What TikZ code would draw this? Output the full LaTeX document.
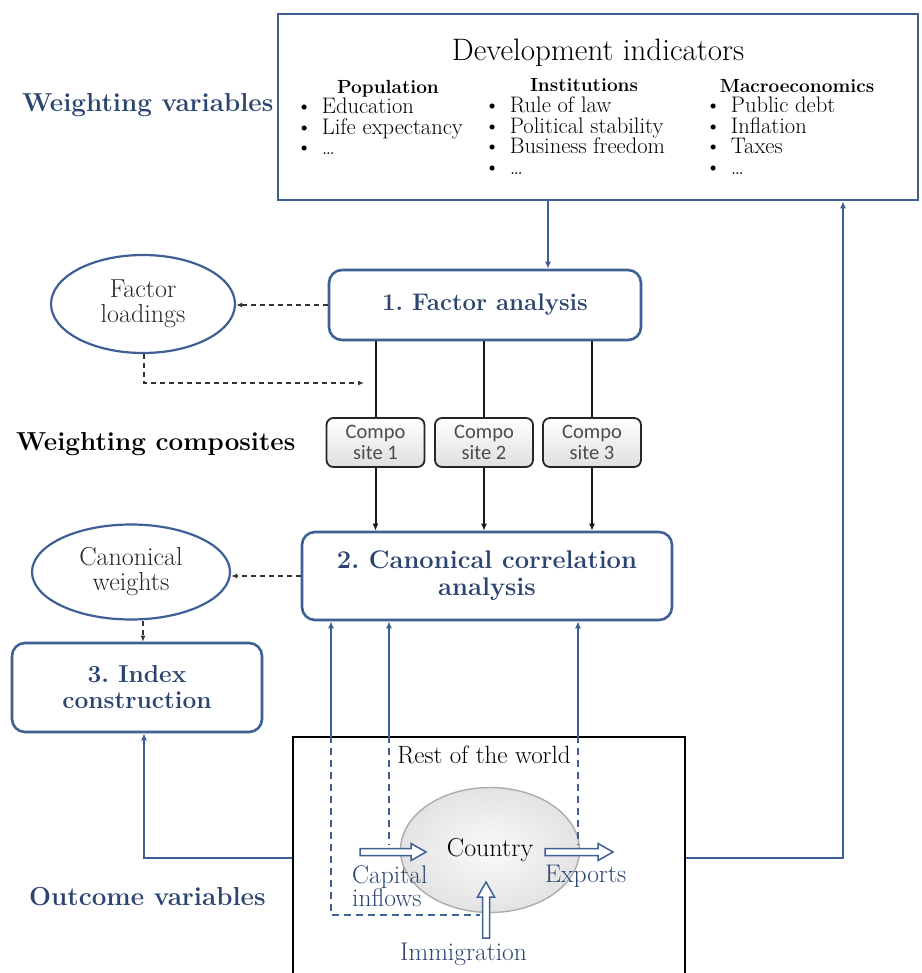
\documentclass[tikz,border=0pt]{standalone}
\usepackage{fontspec}
\newfontfamily\carlito{Carlito}
\usetikzlibrary{arrows.meta,shapes.geometric,calc}
\definecolor{btext}{RGB}{43,69,112}
\definecolor{bline}{RGB}{62,96,148}
\newcommand{\fsz}[2]{\fontsize{#1}{#2}\selectfont}
\frenchspacing
\begin{document}
\begin{tikzpicture}[x=1pt,y=-1pt,
  bl/.style={draw=bline, line width=2.6pt, fill=white, inner sep=0pt, align=center, text=btext},
  rbox/.style={bl, rounded corners=13pt},
  ell/.style={ellipse, draw=bline, line width=2.2pt, inner sep=0pt, align=center, text=black!85},
  comp/.style={draw=black!85, line width=1.8pt, rounded corners=7pt, top color=white, bottom color=gray!25, minimum width=98pt, minimum height=49pt, inner sep=0pt, align=center, font=\carlito\fsz{20.5}{21}, text=black!70},
  blarr/.style={draw=bline, line width=2pt, -{Latex[length=7pt,width=6pt]}},
  blkline/.style={draw=black!90, line width=2pt},
  blkarr/.style={blkline, -{Latex[length=7pt,width=6pt]}},
  dasharr/.style={draw=black!80, line width=1.6pt, dash pattern=on 5pt off 4pt, -{Latex[length=6pt,width=5pt]}},
  bdash/.style={draw=bline, line width=1.5pt, dash pattern=on 7pt off 5pt},
  fat/.style={draw=bline, fill=white, line width=1.5pt, line join=miter},
  lab/.style={font=\bfseries\fsz{26}{28}, inner sep=0pt},
  head/.style={font=\bfseries\fsz{19}{21}, inner sep=0pt, anchor=base},
  items/.style={font=\fsz{22.5}{20.5}, inner sep=0pt, anchor=north west, align=left},
  btxt/.style={font=\fsz{25.5}{23}, text=btext, inner sep=0pt, align=left}
]
\useasboundingbox (0,0) rectangle (921,973);
\clip (0,0) rectangle (921,973);

% ---------- helper coordinates ----------
\coordinate (xA) at (548,0);
\coordinate (xD) at (143,0);
\coordinate (xE) at (144,0);
\coordinate (xF) at (843,0);
\coordinate (xG) at (331,0);
\coordinate (xH) at (389,0);
\coordinate (xI) at (578,0);
\coordinate (xK) at (480,0);
\coordinate (yO) at (0,858);
\coordinate (yM) at (0,915);
\coordinate (yN) at (0,845);
\coordinate (flend) at (364,383);
\coordinate (capA) at (360,852);
\coordinate (expA) at (545,852);
\coordinate (immA) at (486,938);

% ---------- top box ----------
\node[bl, minimum width=640pt, minimum height=186pt] (dev) at (598,107) {};
\node[font=\fsz{31}{33}, inner sep=0pt, anchor=base] (title) at (598,61) {Development indicators};
\node[head] (hpop) at (388,94) {Population};
\node[head] (hins) at (584,92) {Institutions};
\node[head] (hmac) at (797,93) {Macroeconomics};
\node[items] (lpop) at (296,98) {\textbullet\hspace{9.5pt}Education\\\textbullet\hspace{9.5pt}Life expectancy\\\textbullet\hspace{9.5pt}\dots};
\node[items] (lins) at (484,97) {\textbullet\hspace{9.5pt}Rule of law\\\textbullet\hspace{9.5pt}Political stability\\\textbullet\hspace{9.5pt}Business freedom\\\textbullet\hspace{9.5pt}\dots};
\node[items] (lmac) at (705,97) {\textbullet\hspace{9.5pt}Public debt\\\textbullet\hspace{9.5pt}Inflation\\\textbullet\hspace{9.5pt}Taxes\\\textbullet\hspace{9.5pt}\dots};

\node[lab, text=btext, anchor=base west] (wv) at (22,112) {Weighting variables};
\node[lab, text=black, anchor=base west] (wc) at (16,450) {Weighting composites};
\node[lab, text=btext, anchor=base west] (ov) at (29,905) {Outcome variables};

% ---------- process boxes ----------
\node[rbox, minimum width=312pt, minimum height=70pt, font=\bfseries\fsz{24}{26}] (fa) at (485,305) {1. Factor analysis};
\node[rbox, minimum width=370pt, minimum height=88pt, font=\bfseries\fsz{25.5}{27}] (cca) at (487,576) {2. Canonical correlation\\analysis};
\node[rbox, minimum width=250pt, minimum height=89pt, font=\bfseries\fsz{24.5}{26}] (idx) at (137,687.5) {3. Index\\construction};

\node[ell, minimum width=184pt, minimum height=98pt, font=\fsz{26}{25}] (fl) at (143,304) {Factor\\loadings};
\node[ell, minimum width=198pt, minimum height=95pt, font=\fsz{26}{25}] (cw) at (131,572) {Canonical\\weights};

\node[comp] (c1) at (375.5,442.5) {Compo\\site 1};
\node[comp] (c2) at (484,442.5) {Compo\\site 2};
\node[comp] (c3) at (592,442.5) {Compo\\site 3};

% ---------- rest of the world ----------
\node[draw=black, line width=2pt, minimum width=392pt, minimum height=280pt, inner sep=0pt] (row) at (489,877) {};
\node[font=\fsz{25}{26}, inner sep=0pt, anchor=base] (rowt) at (484,763) {Rest of the world};
\node[ellipse, draw=gray!65, line width=1.4pt, inner color=gray!4, outer color=gray!22, minimum width=179pt, minimum height=125pt, inner sep=0pt, font=\fsz{26}{26}] (cty) at (490,850) {Country};

% ---------- connectors ----------
\draw[blarr] (xA |- dev.south) -- (xA |- fa.north);
\draw[dasharr] (fa.west) -- (fa.west -| fl.east);
\draw[dasharr] (fl.south -| xE) |- (flend);
\foreach \c in {c1,c2,c3}{
  \draw[blkline] (fa.south -| \c.north) -- (\c.north);
  \draw[blkarr] (\c.south) -- (\c.south |- cca.north);
}
\draw[dasharr] (cca.west) -- (cca.west -| cw.east);
\draw[dasharr] (xD |- cw.south) -- (xD |- idx.north);

\draw[blarr] (row.west |- yO) -| (xE |- idx.south);
\draw[blarr] (row.east |- yO) -| (xF |- dev.south);

\draw[bdash] (xG |- row.north) -- (xG |- yM) -- (xK |- yM);
\draw[bdash] (xH |- row.north) -- (xH |- yN);
\draw[bdash] (xI |- row.north) -- (xI |- yN);
\draw[blarr] (xG |- row.north) -- (xG |- cca.south);
\draw[blarr] (xH |- row.north) -- (xH |- cca.south);
\draw[blarr] (xI |- row.north) -- (xI |- cca.south);

% block arrows (outlined)
\draw[fat] (capA) ++(0,-3.5) -- ++(51,0) -- ++(0,-5) -- ++(15,8.5) -- ++(-15,8.5) -- ++(0,-5) -- ++(-51,0) -- cycle;
\draw[fat] (expA) ++(0,-3.5) -- ++(53,0) -- ++(0,-5) -- ++(15,8.5) -- ++(-15,8.5) -- ++(0,-5) -- ++(-53,0) -- cycle;
\draw[fat] (immA) ++(-3.5,0) -- ++(0,-41) -- ++(-5,0) -- ++(8.5,-15) -- ++(8.5,15) -- ++(-5,0) -- ++(0,41) -- cycle;

\node[btxt, anchor=north west] (capt) at (352,865) {Capital\\inflows};
\node[btxt, anchor=base west] (expt) at (545,882) {Exports};
\node[btxt, anchor=base west] (immt) at (400,960) {Immigration};
\end{tikzpicture}
\end{document}
